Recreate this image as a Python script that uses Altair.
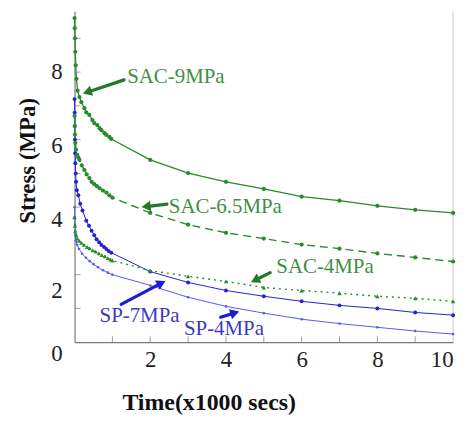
import altair as alt
import pandas as pd
import numpy as np

# ---------------- data (time in x1000 s, stress in MPa) ----------------
sac9_t = [0, 0.005, 0.01, 0.02, 0.03, 0.05, 0.08, 0.13, 0.18, 0.26, 0.31, 0.39, 0.47, 0.52, 0.60, 0.66, 0.71, 0.79, 0.84, 0.92, 0.97,
          2, 3, 4, 5, 6, 7, 8, 9, 10]
sac9_s = [9.6, 9.3, 9.0, 8.6, 8.2, 7.8, 7.45, 7.26, 7.11, 6.93, 6.81, 6.73, 6.58, 6.49, 6.43, 6.34, 6.28, 6.19, 6.14, 6.08, 6.02,
          5.40, 5.01, 4.75, 4.54, 4.31, 4.19, 4.04, 3.92, 3.83]

sac65_t = [0, 0.005, 0.01, 0.02, 0.04, 0.07, 0.1, 0.13, 0.19, 0.26, 0.32, 0.39, 0.45, 0.52, 0.59, 0.66, 0.75, 0.84, 0.92, 1.0,
           2, 3, 4, 5, 6, 7, 8, 9, 10]
sac65_s = [6.7, 6.4, 6.15, 5.9, 5.7, 5.55, 5.47, 5.40, 5.24, 5.10, 4.97, 4.86, 4.75, 4.68, 4.62, 4.56, 4.49, 4.43, 4.35, 4.28,
           3.83, 3.48, 3.24, 3.07, 2.89, 2.77, 2.63, 2.51, 2.39]

sac4_t = [0, 0.01, 0.02, 0.04, 0.07, 0.12, 0.18, 0.25, 0.33, 0.4, 0.48, 0.56, 0.64, 0.72, 0.8, 0.88, 0.95, 1.0,
          2, 3, 4, 5, 6, 7, 8, 9, 10]
sac4_s = [3.7, 3.45, 3.3, 3.18, 3.08, 3.0, 2.94, 2.88, 2.82, 2.78, 2.72, 2.68, 2.63, 2.58, 2.54, 2.49, 2.45, 2.42,
          2.12, 1.95, 1.80, 1.62, 1.53, 1.45, 1.36, 1.30, 1.21]

sp7_t = [0, 0.003, 0.006, 0.01, 0.015, 0.02, 0.03, 0.04, 0.06, 0.1, 0.15, 0.21, 0.31, 0.38, 0.45, 0.52, 0.58, 0.65, 0.71, 0.78, 0.84, 0.9, 0.97,
         2, 3, 4, 5, 6, 7, 8, 9, 10]
sp7_s = [7.2, 6.8, 6.4, 6.0, 5.6, 5.3, 5.0, 4.75, 4.5, 4.35, 4.1, 3.9, 3.6, 3.45, 3.3, 3.17, 3.05, 2.96, 2.88, 2.82, 2.76, 2.7, 2.65,
         2.09, 1.77, 1.53, 1.36, 1.21, 1.09, 1.00, 0.88, 0.80]

sp4_t = [0, 0.005, 0.01, 0.02, 0.04, 0.07, 0.12, 0.2, 0.3, 0.4, 0.5, 0.62, 0.75, 0.88, 1.0,
         2, 3, 4, 5, 6, 7, 8, 9, 10]
sp4_s = [4.0, 3.7, 3.45, 3.2, 3.0, 2.88, 2.76, 2.62, 2.5, 2.4, 2.31, 2.22, 2.13, 2.06, 2.0,
         1.68, 1.33, 1.06, 0.86, 0.68, 0.55, 0.44, 0.33, 0.24]

# annotations: label text, text anchor, arrow tail, arrow tip
ann_text = ["SAC-9MPa", "SAC-6.5MPa", "SAC-4MPa", "SP-7MPa", "SP-4MPa"]
ann_group = ["SAC", "SAC", "SAC", "SP", "SP"]
ann_tx = [1.39, 2.49, 5.33, 0.66, 2.89]
ann_ty = [7.86, 4.00, 2.24, 0.77, 0.38]
tail_t = [1.31, 2.44, 5.17, 1.23, 3.86]
tail_s = [7.77, 4.09, 2.06, 1.12, 0.74]
tip_t = [0.21, 1.76, 4.65, 2.41, 4.36]
tip_s = [7.36, 4.00, 1.77, 1.82, 0.91]

# tick values / labels
x_ticks = list(range(1, 10))
y_ticks = list(range(1, 10))
y_label_vals = [0, 2, 4, 6, 8]
# the source figure's y labels sit a little below their ticks (pixels, downward)
y_label_drop = [12, 17, 13, 6, 0]

# ---------------- geometry helpers ----------------
W, H = 381, 333
XMAX, YMAX = 10.0, 9.8
PX_X, PX_Y = W / XMAX, H / YMAX

FONT = "Liberation Serif, Times New Roman, DejaVu Serif, serif"
GREEN_LINE = "#2b8a2b"
GREEN_TXT = "#3f8f45"
GREEN_ARROW = "#23782a"
BLUE7 = "#2323d6"
BLUE4 = "#5a5af0"
BLUE_TXT = "#3a3ac4"
BLUE_ARROW = "#1c1cd0"

xs = alt.Scale(domain=[0, XMAX], nice=False, zero=False)
ys = alt.Scale(domain=[0, YMAX], nice=False, zero=False)


def frame(t, s):
    return pd.DataFrame({"t": t, "s": s})


def series(t, s, color, width, dash=None, shape="circle", msize=18, mcolor=None):
    d = frame(t, s)
    kw = dict(color=color, strokeWidth=width)
    if dash:
        kw["strokeDash"] = dash
    line = alt.Chart(d).mark_line(**kw).encode(
        x=alt.X("t:Q", scale=xs), y=alt.Y("s:Q", scale=ys))
    pts = alt.Chart(d).mark_point(filled=True, shape=shape, size=msize,
                                  color=mcolor or color, opacity=1).encode(
        x=alt.X("t:Q", scale=xs), y=alt.Y("s:Q", scale=ys))
    return [line, pts]


# axes carrier (first layer)
axis_df = pd.DataFrame({"t": [0, 10], "s": [0, 9.8]})
axes = alt.Chart(axis_df).mark_point(opacity=0).encode(
    x=alt.X("t:Q", scale=xs, axis=alt.Axis(
        values=list(range(0, 11)),
        labelExpr="datum.value % 2 == 0 && datum.value > 0 ? datum.label : ''",
        tickSize=0, labelPadding=7, grid=False,
        domainColor="#7a7a7a", domainWidth=1.2,
        labelFont=FONT, labelFontSize=23, labelColor="#222",
        title="Time(x1000 secs)", titleFont=FONT, titleFontSize=24,
        titleFontWeight="bold", titleColor="#111",
        titleX=135, titleY=61, titleBaseline="middle", titleAlign="center")),
    y=alt.Y("s:Q", scale=ys, axis=alt.Axis(
        values=list(range(0, 10)),
        labels=False,
        tickSize=0, grid=False,
        domainColor="#7a7a7a", domainWidth=1.2,
        title="Stress (MPa)", titleFont=FONT, titleFontSize=23,
        titleFontWeight="bold", titleColor="#111",
        titleX=-47, titleY=150, titleBaseline="middle", titleAlign="center")),
)

# y tick labels, drawn as text so they can sit where the source shows them
ylab_df = pd.DataFrame({
    "v": y_label_vals,
    "pos": [v - d / PX_Y for v, d in zip(y_label_vals, y_label_drop)],
    "label": [str(v) for v in y_label_vals]})
ylabels = alt.Chart(ylab_df).mark_text(
    align="right", baseline="middle", font=FONT, fontSize=23, color="#222", dx=-12).encode(
    x=alt.value(0), y=alt.Y("pos:Q", scale=ys), text="label:N")

right_border = alt.Chart(pd.DataFrame({"t": [10]})).mark_rule(
    color="#c8c8c8", strokeWidth=1).encode(
    x=alt.X("t:Q", scale=xs), y=alt.value(0), y2=alt.value(H))

xt = alt.Chart(pd.DataFrame({"t": x_ticks, "s": [0] * len(x_ticks)})).mark_tick(
    orient="vertical", size=6, thickness=1, color="#7a7a7a", yOffset=-3).encode(
    x=alt.X("t:Q", scale=xs), y=alt.Y("s:Q", scale=ys))
yt = alt.Chart(pd.DataFrame({"t": [0] * len(y_ticks), "s": y_ticks})).mark_tick(
    orient="horizontal", size=6, thickness=1, color="#7a7a7a", xOffset=3).encode(
    x=alt.X("t:Q", scale=xs), y=alt.Y("s:Q", scale=ys))

layers = [axes, ylabels, right_border, xt, yt]
layers += series(sp4_t, sp4_s, BLUE4, 1, shape="circle", msize=7)
layers += series(sp7_t, sp7_s, BLUE7, 1, shape="circle", msize=16)
layers += series(sac4_t, sac4_s, GREEN_LINE, 1.4, dash=[2, 4], shape="triangle-up", msize=20)
layers += series(sac65_t, sac65_s, GREEN_LINE, 1.4, dash=[8, 5], shape="circle", msize=18)
layers += series(sac9_t, sac9_s, GREEN_LINE, 1.3, shape="circle", msize=18)

# arrows
rows = []
heads = []
for i in range(len(ann_text)):
    col = GREEN_ARROW if ann_group[i] == "SAC" else BLUE_ARROW
    rows.append({"id": i, "t": tail_t[i], "s": tail_s[i], "c": col})
    dxp = (tip_t[i] - tail_t[i]) * PX_X
    dyp = -(tip_s[i] - tail_s[i]) * PX_Y
    L = np.hypot(dxp, dyp)
    ux, uy = dxp / L, dyp / L
    back = 5.0
    ht = tip_t[i] - ux * back / PX_X
    hs = tip_s[i] + uy * back / PX_Y
    rows.append({"id": i, "t": ht, "s": hs, "c": col})
    ang = (np.degrees(np.arctan2(ux, -uy)) + 360) % 360
    heads.append({"t": ht, "s": hs, "ang": float(ang), "c": col})

arrow_df = pd.DataFrame(rows)
head_df = pd.DataFrame(heads)
shafts = alt.Chart(arrow_df).mark_line(strokeWidth=3.2, strokeCap="round").encode(
    x=alt.X("t:Q", scale=xs), y=alt.Y("s:Q", scale=ys),
    detail="id:N", color=alt.Color("c:N", scale=None))
arrowheads = alt.Chart(head_df).mark_point(shape="triangle-up", filled=True, size=110, opacity=1).encode(
    x=alt.X("t:Q", scale=xs), y=alt.Y("s:Q", scale=ys),
    angle=alt.Angle("ang:Q", scale=None), color=alt.Color("c:N", scale=None))

txt_df = pd.DataFrame({
    "t": ann_tx, "s": ann_ty, "label": ann_text,
    "c": [GREEN_TXT if g == "SAC" else BLUE_TXT for g in ann_group]})
texts = alt.Chart(txt_df).mark_text(align="left", baseline="middle", font=FONT, fontSize=21).encode(
    x=alt.X("t:Q", scale=xs), y=alt.Y("s:Q", scale=ys), text="label:N",
    color=alt.Color("c:N", scale=None))

layers += [shafts, arrowheads, texts]

chart = alt.layer(*layers).properties(
    width=W, height=H,
    autosize=alt.AutoSizeParams(type="none"),
    padding={"left": 67, "top": 2, "right": 10, "bottom": 80},
    background="white",
).configure_view(stroke=None)

chart.save("out.html", embed_options={"renderer": "svg", "actions": False})
